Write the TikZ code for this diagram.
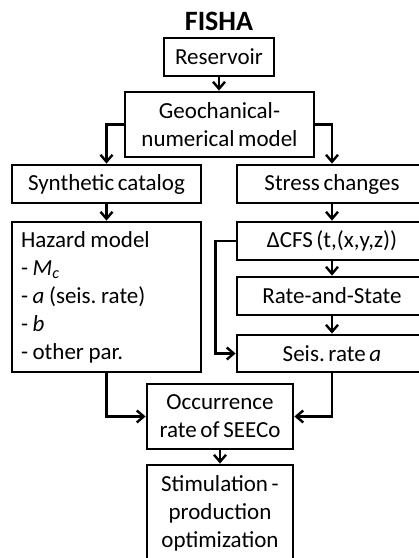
\documentclass[tikz,border=0pt]{standalone}
\usepackage{fontspec}
\setmainfont{Carlito}
\usetikzlibrary{arrows.meta}
\frenchspacing

% box text: Carlito with slightly tighter word spaces
\newcommand{\boxfontset}{\fontsize{23}{28}\selectfont\spaceskip=0.16em plus 0.04em\relax}

\tikzset{
  box/.style={draw=black, line width=2.8pt, fill=white, rectangle,
    inner sep=0pt, align=center, font=\boxfontset},
  flow/.style={draw=black, line width=2.8pt,
    -{Straight Barb[length=7pt, width=12pt, line width=2.4pt]}},
  title/.style={font=\fontsize{28}{32}\selectfont\bfseries, inner sep=0pt}
}

\begin{document}
\begin{tikzpicture}[x=1pt, y=-1pt]
  \clip (0,0) rectangle (419,558);
  \fill[white] (0,0) rectangle (419,558);

  % heading
  \node[title, anchor=base] (head) at (219,30) {FISHA};

  % top of the chain
  \node[box, minimum width=110pt, minimum height=38pt] (res) at (219,57) {Reservoir};
  \node[box, minimum width=189pt, minimum height=65pt] (geo) at (219.5,124.5)
    {Geochanical-\\numerical model};

  % left branch
  \node[box, minimum width=189pt, minimum height=38pt] (syn) at (106.5,184) {Synthetic catalog};
  \node[box, minimum width=189pt, minimum height=150pt, align=left,
        text width=171pt] (haz) at (106.5,297)
    {\spaceskip=0.2em\relax Hazard model\\- \textit{M\textsubscript{c}}\\- \textit{a} (seis. rate)\\- \textit{b}\\- other par.};

  % right branch (boxes run past the right edge)
  \node[box, minimum width=190pt, minimum height=38pt] (str) at (332,184) {Stress changes};
  \node[box, minimum width=190pt, minimum height=38pt] (cfs) at (332,241) {ΔCFS (t,(x,y,z))};
  \node[box, minimum width=190pt, minimum height=38pt] (rs) at (332,296) {Rate-and-State};
  \node[box, minimum width=190pt, minimum height=37pt] (seis) at (332,353.5) {Seis. rate \textit{a}};

  % bottom of the chain
  \node[box, minimum width=146pt, minimum height=65pt] (occ) at (220,416.5)
    {Occurrence\\rate of SEECo};
  \node[box, minimum width=146pt, minimum height=97pt] (stim) at (220,513.5)
    {Stimulation -\\production\\optimization};

  % connectors
  \draw[flow] (res.south) -- (res.south |- geo.north);
  \draw[flow] (geo.west) -| (syn.north);
  \draw[flow] (geo.east) -| (str.north);
  \draw[flow] (syn.south) -- (haz.north);
  \draw[flow] (str.south) -- (cfs.north);
  \draw[flow] (cfs.south) -- (rs.north);
  \draw[flow] (rs.south) -- (seis.north);
  \draw[flow] (cfs.west) -- ++(-20,0) |- (seis.west);
  \draw[flow] (haz.south) |- (occ.west);
  \draw[flow] (seis.south) |- (occ.east);
  \draw[flow] (occ.south) -- (occ.south |- stim.north);
\end{tikzpicture}
\end{document}
